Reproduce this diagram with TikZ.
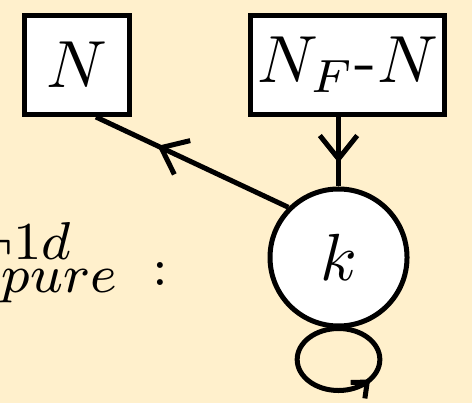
\documentclass[tikz,border=0pt]{standalone}
\usetikzlibrary{arrows.meta,decorations.markings}
\definecolor{paper}{HTML}{FFF0CC}

\begin{document}
\begin{tikzpicture}[
  x=.15pt,y=-.15pt,font=\fontsize{10}{12}\selectfont,
  bigbarb/.tip={Straight Barb[length=3.5pt,width=5.6pt]},
  smallbarb/.tip={Straight Barb[length=1.9pt,width=3.2pt]},
  wire/.style={draw=black,line width=.75pt},
  box/.style={wire,fill=white,minimum width=15.75pt,minimum height=14.85pt,inner sep=1pt},
  state/.style={wire,circle,fill=white,minimum size=20.55pt,inner sep=0pt},
  midarrow/.style={postaction={decorate},decoration={markings,
    mark=at position #1 with {\arrow{bigbarb}}}},
  looparrow/.style={postaction={decorate},decoration={markings,
    mark=at position #1 with {\arrow{smallbarb}}}},
  note/.style={font=\fontsize{8.3}{10}\selectfont,inner sep=0pt}
]
\fill[paper] (0,0) rectangle (472,403);
\useasboundingbox (0,0) rectangle (472,403);
\node[box] (N) at (77,65) {$N$};
\node[box,minimum width=29.1pt] (F) at (347.5,65) {$N_F$-$N$};
\node[state] (k) at (338.5,257.5) {$k$};

\draw[wire,midarrow=.66] (F.south -| k.north) -- (k.north);
\draw[wire,midarrow=.68] (k.135) -- (N.290);
\draw[wire,looparrow=.65] (k.south)
  arc[start angle=90,end angle=450,x radius=6.2pt,y radius=4.65pt];

\node[note,anchor=base east] (neg) at (72,260) {$\neg 1d$};
\node[note,anchor=base east] (pure) at (118,292) {$pure$};
\node[note,anchor=base] (colon) at (160,285) {$:$};
\end{tikzpicture}
\end{document}
